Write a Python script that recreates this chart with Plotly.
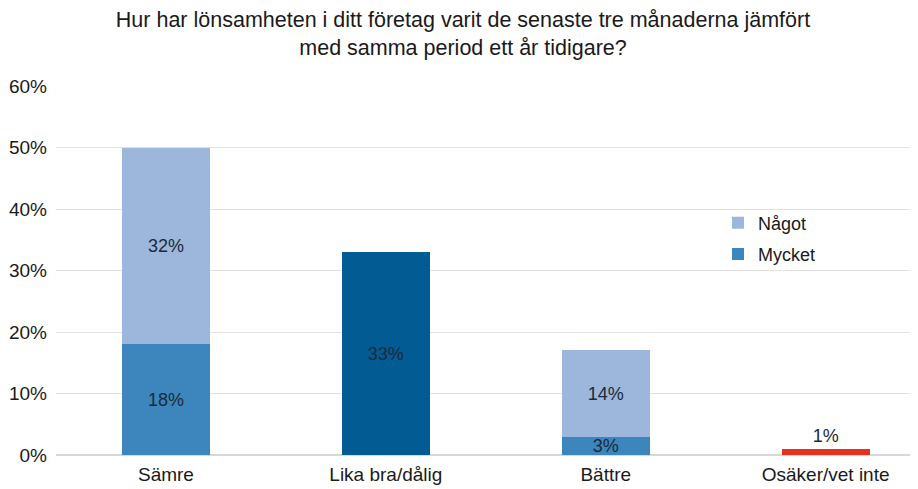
import plotly.graph_objects as go

categories = ["Sämre", "Lika bra/dålig", "Bättre", "Osäker/vet inte"]

mycket_x = ["Sämre", "Bättre"]
mycket_y = [18, 3]
nagot_x = ["Sämre", "Bättre"]
nagot_y = [32, 14]
lika_x = ["Lika bra/dålig"]
lika_y = [33]
osaker_x = ["Osäker/vet inte"]
osaker_y = [1]

y_ticks = [0, 10, 20, 30, 40, 50, 60]

FONT = "Liberation Sans, Arial, sans-serif"
LABEL_FONT = dict(family=FONT, size=18, color="#1b2a3a")

fig = go.Figure()
fig.add_trace(go.Bar(
    name="Mycket", x=mycket_x, y=mycket_y, marker_color="#3d85bd",
    text=[f"{v}%" for v in mycket_y], textposition="inside",
    insidetextanchor="middle", constraintext="none", textfont=LABEL_FONT,
    width=0.4, legendgroup="m", legendrank=2,
))
fig.add_trace(go.Bar(
    name="Något", x=nagot_x, y=nagot_y, marker_color="#9db7dc",
    text=[f"{v}%" for v in nagot_y], textposition="inside",
    insidetextanchor="middle", constraintext="none", textfont=LABEL_FONT,
    width=0.4, legendgroup="n", legendrank=1,
))
fig.add_trace(go.Bar(
    name="Lika bra/dålig", x=lika_x, y=lika_y, marker_color="#035b93",
    text=[f"{v}%" for v in lika_y], textposition="inside",
    insidetextanchor="middle", textfont=LABEL_FONT, width=0.4, showlegend=False,
))
fig.add_trace(go.Bar(
    name="Osäker/vet inte", x=osaker_x, y=osaker_y, marker_color="#e5321c",
    text=[f"{v}%" for v in osaker_y], textposition="outside",
    textfont=LABEL_FONT, width=0.4, showlegend=False, cliponaxis=False,
))

fig.update_traces(marker_line_width=0)

# the page body adds an 8px offset, so the figure is 8px smaller
fig.update_layout(
    barmode="stack",
    width=910,
    height=481,
    paper_bgcolor="white",
    plot_bgcolor="white",
    font=dict(family=FONT, size=19, color="#1a1a1a"),
    title=dict(
        text="Hur har lönsamheten i ditt företag varit de senaste tre månaderna jämfört<br>med samma period ett år tidigare?",
        x=0.5, xanchor="center", xref="container", y=0.96, yanchor="top",
        font=dict(size=21.5, color="#1a1a1a"),
    ),
    xaxis=dict(
        categoryorder="array", categoryarray=categories,
        range=[-0.5, 3.42], showgrid=False, showline=False, ticks="",
        tickfont=dict(size=19), automargin=False, ticklabelstandoff=6,
    ),
    yaxis=dict(
        range=[0, 60], tickvals=y_ticks, ticktext=[f"{v}%" for v in y_ticks],
        showgrid=True, gridcolor="#e2e2e2", gridwidth=1,
        zeroline=True, zerolinecolor="#d8d8d8", showline=False,
        tickfont=dict(size=19), ticks="", automargin=False, ticklabelstandoff=8,
    ),
    legend=dict(
        x=0.768, y=0.679, xanchor="left", yanchor="top",
        traceorder="grouped", font=dict(size=18),
        bgcolor="rgba(0,0,0,0)", itemwidth=30, tracegroupgap=5,
    ),
    margin=dict(l=48, r=0, t=78, b=34),
)

fig.write_html("out.html")
